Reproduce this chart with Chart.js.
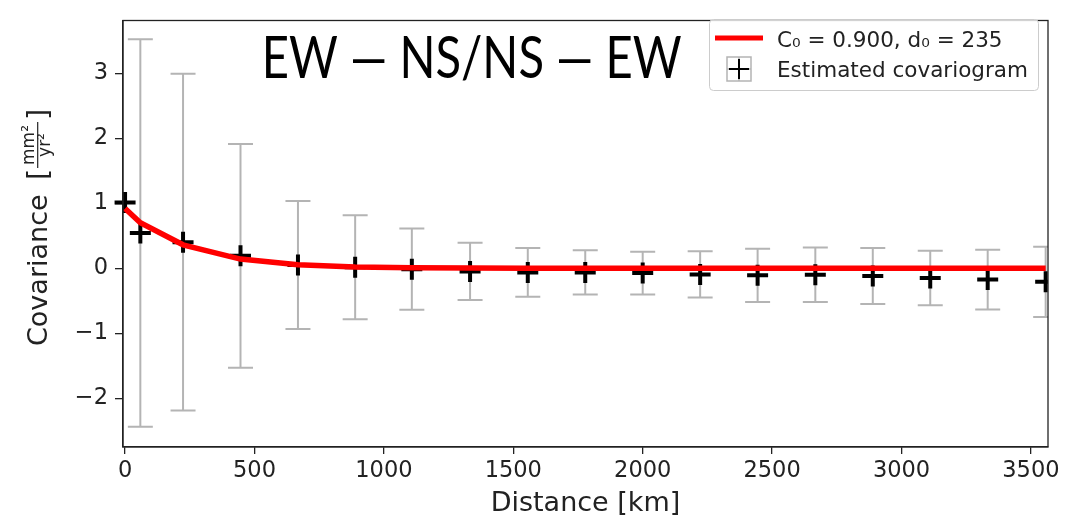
<!DOCTYPE html>
<html>
<head>
<meta charset="utf-8">
<script src="https://cdn.jsdelivr.net/npm/chart.js@4.4.0/dist/chart.umd.min.js"></script>
<style>
  html, body { margin: 0; padding: 0; background: #fff; }
  #wrap { width: 1071px; height: 521px; }
</style>
</head>
<body>
<div id="wrap"><canvas id="covar" width="1071" height="521"></canvas></div>
<script>
// lag distances (km)
const dist = [0, 59, 224, 446, 668, 889, 1108, 1333, 1556, 1778, 2000, 2222, 2444, 2667, 2889, 3111, 3333, 3557];
// estimated covariance per lag
const cov = [1.01, 0.54, 0.40, 0.19, 0.05, 0.015, -0.015, -0.05, -0.065, -0.065, -0.075, -0.095, -0.11, -0.10, -0.12, -0.15, -0.175, -0.21];
// half length of each error bar (null = none)
const err = [null, 2.98, 2.59, 1.72, 0.985, 0.80, 0.625, 0.44, 0.375, 0.34, 0.33, 0.355, 0.41, 0.42, 0.43, 0.42, 0.46, 0.54];
// fitted model
const model = [0.92, 0.70, 0.36, 0.14, 0.055, 0.02, 0.008, 0.003, 0, 0, 0, 0, 0, 0, 0, 0, 0, 0];
const xTicks = [0, 500, 1000, 1500, 2000, 2500, 3000, 3500];
const yTicks = [-2, -1, 0, 1, 2, 3];

const INK = "#222";
Chart.defaults.font.family = "'DejaVu Sans'";

const fmt = v => (v < 0 ? "\u2212" + Math.abs(v) : String(v));

// grey error bars under the markers
const errorBars = {
    id: "errorBars",
    beforeDatasetsDraw(chart) {
        const { ctx, chartArea: a, scales: { x, y } } = chart;
        ctx.save();
        ctx.beginPath();
        ctx.rect(a.left, a.top, a.right - a.left, a.bottom - a.top);
        ctx.clip();
        ctx.strokeStyle = "#b4b4b4";
        ctx.lineWidth = 2;
        dist.forEach((d, i) => {
            if (err[i] == null) return;
            const px = x.getPixelForValue(d);
            const top = y.getPixelForValue(cov[i] + err[i]);
            const bot = y.getPixelForValue(cov[i] - err[i]);
            ctx.beginPath();
            ctx.moveTo(px, top); ctx.lineTo(px, bot);
            ctx.moveTo(px - 12.5, top); ctx.lineTo(px + 12.5, top);
            ctx.moveTo(px - 12.5, bot); ctx.lineTo(px + 12.5, bot);
            ctx.stroke();
        });
        ctx.restore();
    }
};

// frame, title text, legend and y label
const decor = {
    id: "decor",
    afterDraw(chart) {
        const { ctx, chartArea: a } = chart;
        ctx.save();
        ctx.strokeStyle = INK;
        ctx.lineWidth = 1.3;
        ctx.strokeRect(a.left, a.top, a.right - a.left, a.bottom - a.top);

        // big title inside the axes
        ctx.fillStyle = "#000";
        ctx.font = "58px Lato";
        ctx.textBaseline = "alphabetic";
        const t = "EW \u2014 NS/NS \u2014 EW";
        const w = ctx.measureText(t).width;
        ctx.save();
        ctx.translate(261.7, 78.3);
        ctx.scale(420 / w, 1);
        ctx.fillText(t, 0, 0);
        ctx.restore();

        // legend
        ctx.beginPath();
        ctx.roundRect(709.5, 19.5, 329, 71, 4);
        ctx.fillStyle = "rgba(255,255,255,0.8)";
        ctx.fill();
        ctx.strokeStyle = "#cccccc";
        ctx.lineWidth = 1;
        ctx.stroke();

        ctx.strokeStyle = "red";
        ctx.lineWidth = 5;
        ctx.beginPath();
        ctx.moveTo(715, 38); ctx.lineTo(763, 38);
        ctx.stroke();

        ctx.strokeStyle = "#b4b4b4";
        ctx.lineWidth = 1.5;
        ctx.beginPath();
        ctx.moveTo(727, 69); ctx.lineTo(751, 69);
        ctx.moveTo(739, 57); ctx.lineTo(739, 81);
        ctx.rect(727, 57, 24, 24);
        ctx.stroke();
        ctx.strokeStyle = "#000";
        ctx.lineWidth = 2;
        ctx.beginPath();
        ctx.moveTo(729, 69); ctx.lineTo(749, 69);
        ctx.moveTo(739, 59); ctx.lineTo(739, 79);
        ctx.stroke();

        ctx.fillStyle = INK;
        ctx.font = "21.5px 'DejaVu Sans'";
        ctx.fillText("C\u2080 = 0.900, d\u2080 = 235", 777, 46.7);
        ctx.fillText("Estimated covariogram", 777, 77.3);

        // y label with the fraction unit
        ctx.translate(47, 346);
        ctx.rotate(-Math.PI / 2);
        ctx.font = "27px 'DejaVu Sans'";
        ctx.textAlign = "left";
        ctx.fillText("Covariance", 0, 0);
        ctx.font = "29px 'DejaVu Sans'";
        ctx.fillText("[", 166, 1);
        ctx.fillText("]", 226, 1);
        ctx.font = "17px 'DejaVu Sans'";
        ctx.textAlign = "center";
        ctx.fillText("mm\u00b2", 201, -13);
        ctx.fillText("yr\u00b2", 201, 2.5);
        ctx.lineWidth = 1.2;
        ctx.strokeStyle = INK;
        ctx.beginPath();
        ctx.moveTo(178, -9.3); ctx.lineTo(224, -9.3);
        ctx.stroke();
        ctx.restore();
    }
};

const axisGrid = len => ({
    drawOnChartArea: false,
    drawTicks: true,
    tickLength: len,
    color: INK,
    lineWidth: 1.3
});

const config = {
    type: "scatter",
    data: {
        datasets: [
            {
                label: "model",
                data: dist.map((d, i) => ({ x: d, y: model[i] })),
                showLine: true,
                borderColor: "red",
                borderWidth: 5.5,
                pointRadius: 0,
                tension: 0,
                order: 0
            },
            {
                label: "Estimated covariogram",
                data: dist.map((d, i) => ({ x: d, y: cov[i] })),
                pointStyle: "cross",
                pointRadius: 10.5,
                pointBorderWidth: 4,
                borderColor: "#000",
                backgroundColor: "#000",
                clip: { left: 12, top: 0, right: 0, bottom: 0 },
                order: 1
            }
        ]
    },
    options: {
        responsive: false,
        animation: false,
        layout: { padding: { top: 9, right: 23, left: 0, bottom: 0 } },
        plugins: {
            legend: { display: false },
            tooltip: { enabled: false }
        },
        scales: {
            x: {
                type: "linear",
                min: -8,
                max: 3566,
                afterBuildTicks: s => { s.ticks = xTicks.map(v => ({ value: v })); },
                afterFit: s => { s.height = 74; },
                grid: axisGrid(7),
                border: { display: true, color: INK, width: 1.3 },
                ticks: { font: { size: 22.5 }, color: INK, padding: 4, maxRotation: 0, autoSkip: false, callback: fmt },
                title: { display: true, text: "Distance [km]", font: { size: 27 }, color: INK, padding: { top: 0, bottom: 1 } }
            },
            y: {
                min: -2.75,
                max: 3.81,
                afterBuildTicks: s => { s.ticks = yTicks.map(v => ({ value: v })); },
                afterFit: s => { s.width = 123; },
                grid: axisGrid(8),
                border: { display: true, color: INK, width: 1.3 },
                ticks: { font: { size: 22.5 }, color: INK, padding: 7, autoSkip: false, callback: fmt }
            }
        }
    },
    plugins: [errorBars, decor]
};

const covar = new Chart(document.getElementById("covar"), config);
</script>
</body>
</html>
